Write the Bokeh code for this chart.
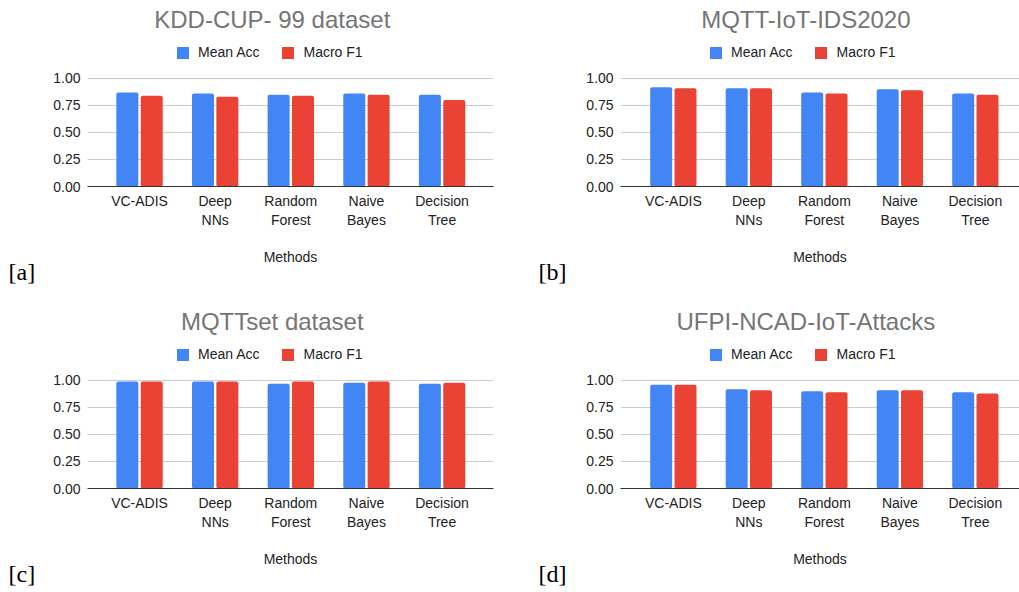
import numpy as np
from bokeh.plotting import figure
from bokeh.layouts import column, row
from bokeh.models import (Range1d, FixedTicker, Legend, LegendItem, Title, Label,
                          NumeralTickFormatter, ColumnDataSource)
from bokeh.embed import file_html
from bokeh.resources import INLINE

# ---------------- data ----------------
methods = ["VC-ADIS", "Deep NNs", "Random Forest", "Naive Bayes", "Decision Tree"]
series_names = ["Mean Acc", "Macro F1"]
y_ticks = [0.0, 0.25, 0.5, 0.75, 1.0]

titles = ["KDD-CUP- 99 dataset", "MQTT-IoT-IDS2020", "MQTTset dataset", "UFPI-NCAD-IoT-Attacks"]
panel_tags = ["[a]", "[b]", "[c]", "[d]"]

kdd_acc = [0.87, 0.86, 0.85, 0.86, 0.85]
kdd_f1 = [0.84, 0.83, 0.84, 0.85, 0.80]
mqttiot_acc = [0.92, 0.91, 0.87, 0.90, 0.86]
mqttiot_f1 = [0.91, 0.91, 0.86, 0.89, 0.85]
mqttset_acc = [0.99, 0.99, 0.97, 0.98, 0.97]
mqttset_f1 = [0.99, 0.99, 0.99, 0.99, 0.98]
ufpi_acc = [0.96, 0.92, 0.90, 0.91, 0.89]
ufpi_f1 = [0.96, 0.91, 0.89, 0.91, 0.88]

panels = [(kdd_acc, kdd_f1), (mqttiot_acc, mqttiot_f1),
          (mqttset_acc, mqttset_f1), (ufpi_acc, ufpi_f1)]

# ---------------- style ----------------
BLUE = "#4285F4"
RED = "#EA4335"
FONT = "Liberation Sans"
TEXT = "#222222"
TITLE_COLOR = "#757575"

FRAME_H = 186          # frame also holds the title/legend area above y = 1
Y_TOP = 1.722          # 108 px per unit, plot area from 0 to 1
TITLE_X, TITLE_Y = 1.755, 1.546


def make_panel(i, acc, f1, height, left):
    if left:
        width, bl, br = 530, 87, 37
        xr = Range1d(-0.688, 4.68)
        tag_offset = -79
    else:
        width, bl, br = 489, 90, 0
        xr = Range1d(-0.70, 4.585)
        tag_offset = -82
    bottom = height - FRAME_H
    p = figure(width=width, height=height, x_range=xr, y_range=Range1d(0, Y_TOP),
               output_backend="svg", toolbar_location=None,
               min_border_left=bl, min_border_right=br,
               min_border_top=0, min_border_bottom=bottom)
    p.outline_line_color = None
    p.background_fill_color = "white"
    p.border_fill_color = "white"

    x = np.arange(len(methods))
    src = ColumnDataSource(dict(x_acc=x - 0.161, x_f1=x + 0.161, acc=acc, f1=f1))
    r1 = p.vbar(x="x_acc", top="acc", width=0.291, source=src, fill_color=BLUE,
                line_color=None, border_radius=2)
    r2 = p.vbar(x="x_f1", top="f1", width=0.291, source=src, fill_color=RED,
                line_color=None, border_radius=2)

    # axes
    p.xgrid.grid_line_color = None
    p.ygrid.grid_line_color = "#cccccc"
    p.ygrid.grid_line_width = 1
    p.yaxis.ticker = FixedTicker(ticks=y_ticks)
    p.yaxis.formatter = NumeralTickFormatter(format="0.00")
    p.yaxis.axis_line_color = None
    p.yaxis.major_tick_line_color = None
    p.yaxis.minor_tick_line_color = None
    p.yaxis.major_tick_out = 0
    p.yaxis.minor_tick_out = 0
    p.yaxis.major_label_standoff = 7
    p.yaxis.major_label_text_font = FONT
    p.yaxis.major_label_text_font_size = "14px"
    p.yaxis.major_label_text_color = TEXT

    p.xaxis.ticker = FixedTicker(ticks=list(range(len(methods))))
    p.xaxis.major_label_overrides = {k: m.replace(" ", "\n") for k, m in enumerate(methods)}
    p.xaxis.axis_line_color = "#333333"
    p.xaxis.major_tick_line_color = None
    p.xaxis.minor_tick_line_color = None
    p.xaxis.major_tick_out = 0
    p.xaxis.minor_tick_out = 0
    p.xaxis.major_label_standoff = 6
    p.xaxis.major_label_text_font = FONT
    p.xaxis.major_label_text_font_size = "14px"
    p.xaxis.major_label_text_color = TEXT
    p.xaxis.axis_label = "Methods"
    p.xaxis.axis_label_text_font = FONT
    p.xaxis.axis_label_text_font_size = "14px"
    p.xaxis.axis_label_text_font_style = "normal"
    p.xaxis.axis_label_text_color = TEXT
    p.xaxis.axis_label_standoff = 18

    # chart title
    p.add_layout(Label(x=TITLE_X, y=TITLE_Y, text=titles[i], text_font=FONT,
                       text_font_size="24px", text_color=TITLE_COLOR,
                       text_align="center", text_baseline="middle"))

    # legend
    legend = Legend(items=[LegendItem(label=series_names[0], renderers=[r1]),
                           LegendItem(label=series_names[1], renderers=[r2])],
                    location=(88, 126), orientation="horizontal",
                    glyph_width=15, glyph_height=15, label_standoff=8, spacing=21,
                    padding=0, margin=0, border_line_color=None,
                    background_fill_alpha=0, label_text_font=FONT,
                    label_text_font_size="14px", label_text_color=TEXT,
                    label_height=15)
    p.add_layout(legend)

    # panel tag below
    p.add_layout(Title(text=panel_tags[i], align="left", offset=tag_offset,
                       vertical_align="top", standoff=-18,
                       text_font="Liberation Serif", text_font_size="24px",
                       text_font_style="normal", text_color="#000000"), "below")
    return p


H1, H2 = 302, 290
figs = []
for i, (acc, f1) in enumerate(panels):
    figs.append(make_panel(i, acc, f1, H1 if i < 2 else H2, i % 2 == 0))

layout = column(row(figs[0], figs[1]), row(figs[2], figs[3]))
open("out.html", "w").write(file_html(layout, INLINE))
